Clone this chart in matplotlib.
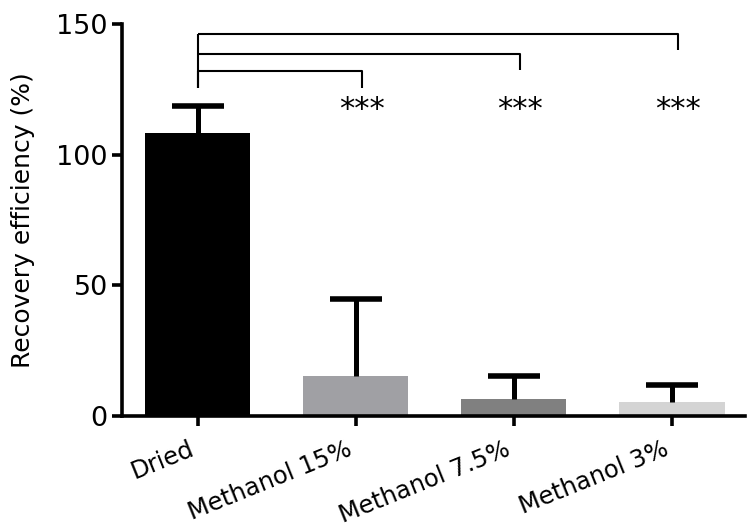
"""
Recovery efficiency bar chart with significance brackets
"""
import matplotlib
matplotlib.use("Agg")
import matplotlib.pyplot as plt

# data
groups = ["Dried", "Methanol 15%", "Methanol 7.5%", "Methanol 3%"]
recovery = [108.3, 15.3, 6.5, 5.4]
sd_upper = [10.3, 29.5, 8.8, 6.5]
bar_colors = ["#000000", "#a0a0a4", "#808080", "#d4d4d4"]
yticks = [0, 50, 100, 150]

# comparisons against Dried: (group index, bracket height, drop height, stars)
comparisons = [(1, 132.0, 125.5, "***"), (2, 138.5, 132.4, "***"), (3, 146.2, 140.0, "***")]
star_y = 117.5

plt.rcParams["font.family"] = ["DejaVu Sans"]

fig = plt.figure(figsize=(7.47, 5.26), dpi=100)
ax = fig.add_axes([0.163, 0.209, 0.834, 0.745])

x = list(range(len(groups)))
ax.bar(x, recovery, width=0.665, color=bar_colors, edgecolor="none", zorder=2)
_, caps, _ = ax.errorbar(x, recovery, yerr=[[0] * len(sd_upper), sd_upper], fmt="none",
                         ecolor="black", elinewidth=3.6, capsize=19, capthick=4, zorder=3)
caps[0].set_visible(False)  # only the upper cap

# significance brackets
for idx, top, drop, stars in comparisons:
    xe = idx + 0.04
    ax.plot([0, 0, xe, xe], [drop if idx == 1 else top, top, top, drop],
            color="black", lw=1.5, solid_capstyle="butt", clip_on=False, zorder=4)
    ax.text(xe, star_y, stars, ha="center", va="center", fontsize=22)
ax.plot([0, 0], [125.5, 146.2], color="black", lw=1.5, solid_capstyle="butt", zorder=4)

ax.set_xlim(-0.48, 3.46)
ax.set_ylim(0, 150)
ax.set_yticks(yticks)
ax.set_xticks(x)
ax.set_xticklabels(groups, rotation=22, ha="right", fontsize=17.5)
ax.tick_params(axis="y", labelsize=19.5, length=7, width=2.6, pad=3)
ax.tick_params(axis="x", length=7, width=2.6, pad=8)

for side in ["top", "right"]:
    ax.spines[side].set_visible(False)
for side in ["left", "bottom"]:
    ax.spines[side].set_linewidth(2.6)

ax.set_ylabel("Recovery efficiency (%)", fontsize=18)
ax.yaxis.set_label_coords(-0.14, 0.5)

fig.savefig("out.png", dpi=100)
